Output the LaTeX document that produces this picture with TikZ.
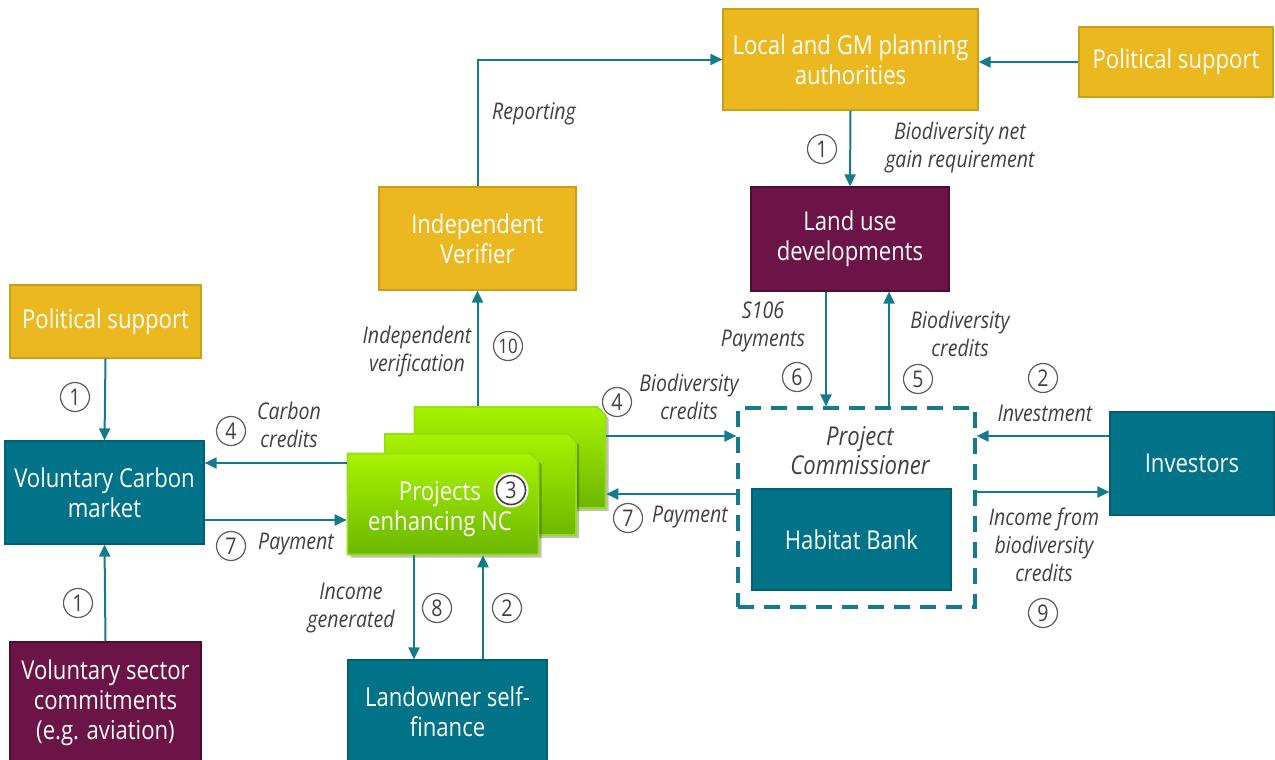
\documentclass[tikz,border=0pt]{standalone}
\usepackage{fontspec}
\setmainfont{Open Sans}[FakeStretch=0.85]
\usepackage{tikz}
\usepackage{xcolor}
\usetikzlibrary{positioning, arrows.meta, shapes.misc, shadows}
\definecolor{nbgold}{RGB}{235, 184, 32}
\definecolor{nbgoldline}{RGB}{201, 160, 22}
\definecolor{nbplum}{RGB}{108, 20, 72}
\definecolor{nbplumline}{RGB}{78, 12, 50}
\definecolor{nbteal}{RGB}{0, 115, 136}
\definecolor{nbtealline}{RGB}{0, 96, 114}
\definecolor{nbarrow}{RGB}{20, 123, 141}
\definecolor{nbgrey}{RGB}{64, 64, 64}
\definecolor{nbgreentop}{RGB}{168, 243, 0}
\definecolor{nbgreenbot}{RGB}{108, 182, 0}
\definecolor{nbgreenline}{RGB}{150, 222, 20}
\tikzset{
    flowbox/.style={rectangle, align=center, text=white, inner sep=2pt,
        font=\fontsize{13}{15}\selectfont},
    goldbox/.style={flowbox, fill=nbgold, draw=nbgoldline, line width=0.6pt},
    plumbox/.style={flowbox, fill=nbplum, draw=nbplumline, line width=0.6pt},
    tealbox/.style={flowbox, fill=nbteal, draw=nbtealline, line width=0.6pt},
    projbox/.style={flowbox, chamfered rectangle, chamfered rectangle corners=north east,
        chamfered rectangle xsep=9pt, chamfered rectangle ysep=9pt,
        top color=nbgreentop, bottom color=nbgreenbot, draw=nbgreenline, line width=0.8pt,
        minimum width=95.5pt, minimum height=50.5pt,
        drop shadow={shadow xshift=1.5pt, shadow yshift=-1.5pt, fill=black, opacity=0.25}},
    commbox/.style={draw=nbarrow, dash pattern=on 8pt off 5pt, line width=1.6pt,
        minimum width=118.5pt, minimum height=99.5pt},
    numcirc/.style={circle, draw=nbgrey!85, line width=0.6pt, minimum size=14.5pt,
        inner sep=0pt, text=nbgrey, font=\fontsize{11.5}{11.5}\selectfont},
    flowlbl/.style={align=center, text=nbgrey, inner sep=0pt,
        font=\fontsize{11.5}{14}\selectfont\itshape},
    flow/.style={draw=nbarrow, line width=1pt, -{Triangle[length=6pt, width=5.5pt]}}
}

\begin{document}
\begin{tikzpicture}[x=0.5pt, y=-0.5pt]
    \useasboundingbox (0,0) rectangle (1275,760);
    \clip (0,0) rectangle (1275,760);

    % actors
    \node[goldbox, minimum width=127.5pt, minimum height=50.5pt] (lpa) at (850.5,59.5) {Local and GM planning\\authorities};
    \node[goldbox, minimum width=97pt, minimum height=35pt] (polr) at (1176,62) {Political support};
    \node[goldbox, minimum width=98.5pt, minimum height=51.5pt] (iv) at (477.5,238.5) {Independent\\Verifier};
    \node[plumbox, minimum width=99pt, minimum height=52pt] (lud) at (850,239) {Land use\\developments};
    \node[goldbox, minimum width=95.5pt, minimum height=36.5pt] (poll) at (105.5,321.5) {Political support};
    \node[tealbox, minimum width=99.5pt, minimum height=51.5pt] (vcm) at (104.5,492.5) {Voluntary Carbon\\market};
    \node[plumbox, minimum width=95.5pt, minimum height=61pt] (vsc) at (105.5,703) {Voluntary sector\\commitments\\(e.g. aviation)};
    \node[tealbox, minimum width=99.5pt, minimum height=52pt] (lsf) at (447.5,712) {Landowner self-\\finance};
    \node[tealbox, minimum width=82pt, minimum height=51.5pt] (inv) at (1192,463.5) {Investors};

    % project commissioner with the habitat bank inside
    \node[commbox] (pc) at (856.5,507.5) {};
    \node[tealbox, minimum width=99.5pt, minimum height=50.5pt] (hb) at (851.5,539.5) {Habitat Bank};
    \node[flowlbl, font=\fontsize{13}{14.5}\selectfont\itshape] (pctxt) at (860,451) {Project\\Commissioner};

    % stack of projects
    \node[projbox] (proj3) at (510,457.5) {};
    \node[projbox] (proj2) at (480.5,484.5) {};
    \node[projbox, text depth=0pt] (proj1) at (443,504) {};
    \node[flowbox] (projtxt) at (440,509) {Projects\\enhancing NC};
    \node[numcirc, fill=white, draw=nbgrey, line width=0.8pt,
        preaction={draw=white, line width=3pt}] (n3) at (511,490) {3};

    % flows
    \draw[flow] (polr.west) -- (polr.west -| lpa.east);
    \draw[flow] (iv.north) |- (lpa.west);
    \draw[flow] (lpa.south) -- (lud.north);
    \draw[flow] (poll.south) -- (vcm.north);
    \draw[flow] (vsc.north) -- (vcm.south);
    \draw[flow] ([yshift=14.75pt]vcm.east -| proj1.west) -- ([yshift=14.75pt]vcm.east);
    \draw[flow] ([yshift=-13.75pt]vcm.east) -- ([yshift=-13.75pt]vcm.east -| proj1.west);
    \draw[flow] (iv.south |- proj3.north) -- (iv.south);
    \draw[flow] ([yshift=10.75pt]proj3.east) -- ([yshift=10.75pt]proj3.east -| pc.west);
    \draw[flow] ([yshift=6.75pt]pc.west) -- ([yshift=6.75pt]pc.west -| proj3.east);
    \draw[flow] ([xshift=-12pt]lud.south) -- ([xshift=-12pt]lud.south |- pc.north);
    \draw[flow] ([xshift=19.5pt]lud.south |- pc.north) -- ([xshift=19.5pt]lud.south);
    \draw[flow] ([yshift=13.75pt]inv.west) -- ([yshift=13.75pt]inv.west -| pc.east);
    \draw[flow] ([yshift=-14.25pt]inv.west -| pc.east) -- ([yshift=-14.25pt]inv.west);
    \draw[flow] ([xshift=-16.75pt]lsf.north |- proj1.south) -- ([xshift=-16.75pt]lsf.north);
    \draw[flow] ([xshift=17.75pt]lsf.north) -- ([xshift=17.75pt]lsf.north |- proj1.south);

    % flow labels
    \node[flowlbl] (lbrep) at (534,114) {Reporting};
    \node[flowlbl] (lbbng) at (960,148) {Biodiversity net\\gain requirement};
    \node[flowlbl] (lbver) at (417,352) {Independent\\verification};
    \node[flowlbl] (lbcc) at (289,425) {Carbon\\credits};
    \node[flowlbl] (lbpay) at (296,544) {Payment};
    \node[flowlbl] (lbinc) at (351,608) {Income\\generated};
    \node[flowlbl] (lbbc) at (689,397) {Biodiversity\\credits};
    \node[flowlbl] (lbpay2) at (690,517) {Payment};
    \node[flowlbl] (lbs106) at (763,327) {S106\\Payments};
    \node[flowlbl] (lbbc2) at (960,334) {Biodiversity\\credits};
    \node[flowlbl] (lbinv) at (1045,413) {Investment};
    \node[flowlbl] (lbincb) at (1044,545) {Income from\\biodiversity\\credits};

    % step numbers
    \node[numcirc] (n1a) at (822,149) {1};
    \node[numcirc] (n1b) at (75,397) {1};
    \node[numcirc] (n1c) at (78,603) {1};
    \node[numcirc] (n10) at (508,346) {\fontsize{10}{10}\selectfont 10};
    \node[numcirc] (n4a) at (231,431) {4};
    \node[numcirc] (n7a) at (231,546) {7};
    \node[numcirc] (n8) at (437,608) {8};
    \node[numcirc] (n2a) at (507,608) {2};
    \node[numcirc] (n4b) at (617,402) {4};
    \node[numcirc] (n7b) at (628,518) {7};
    \node[numcirc] (n6) at (797,377) {6};
    \node[numcirc] (n5) at (918,379) {5};
    \node[numcirc] (n2b) at (1043,378) {2};
    \node[numcirc] (n9) at (1043,613) {9};
\end{tikzpicture}
\end{document}
